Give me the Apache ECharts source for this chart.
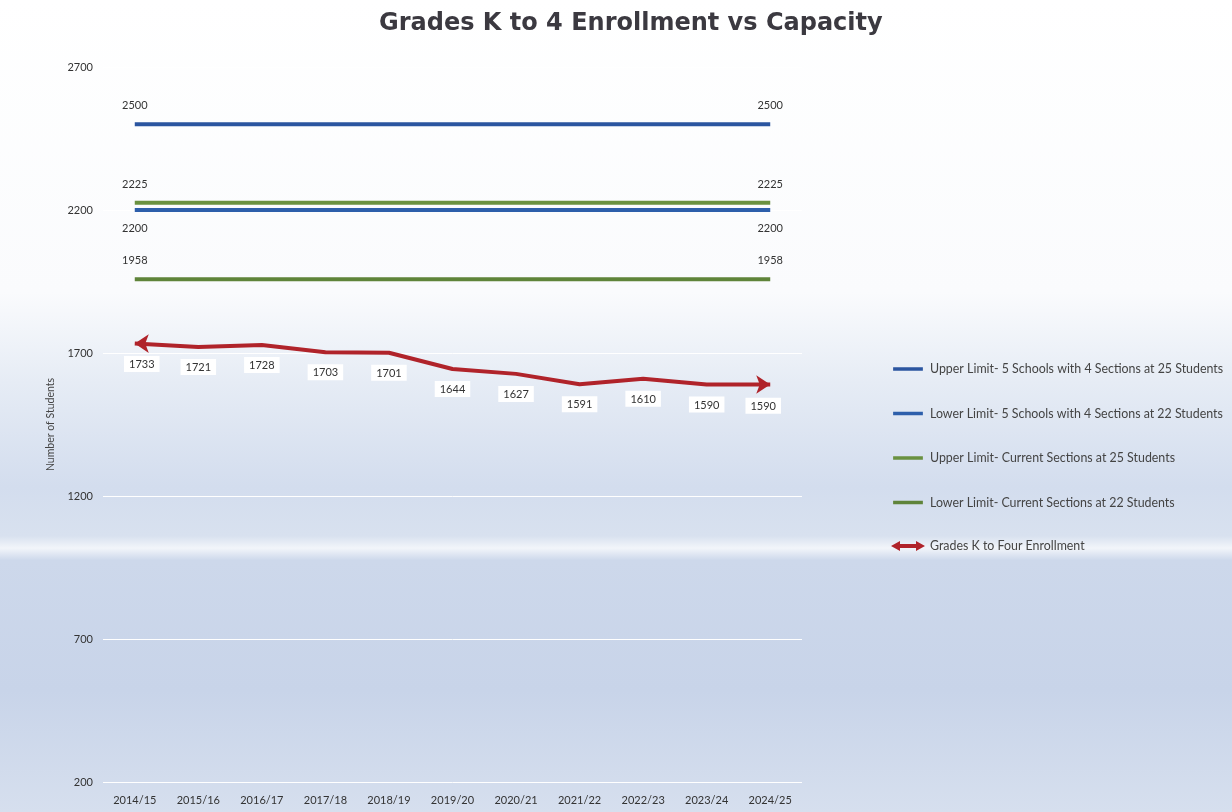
<!DOCTYPE html>
<html>
<head>
<meta charset="utf-8">
<script src="https://cdn.jsdelivr.net/npm/echarts@6/dist/echarts.min.js"></script>
<style>html,body{margin:0;padding:0;background:#fff}#c{width:1232px;height:812px}</style>
</head>
<body>
<div id="c"></div>
<script>
const categories = ['2014/15','2015/16','2016/17','2017/18','2018/19','2019/20','2020/21','2021/22','2022/23','2023/24','2024/25'];
const upperLimit5Schools = [2500,2500,2500,2500,2500,2500,2500,2500,2500,2500,2500];
const lowerLimit5Schools = [2200,2200,2200,2200,2200,2200,2200,2200,2200,2200,2200];
const upperLimitCurrent = [2225,2225,2225,2225,2225,2225,2225,2225,2225,2225,2225];
const lowerLimitCurrent = [1958,1958,1958,1958,1958,1958,1958,1958,1958,1958,1958];
const enrollment = [1733,1721,1728,1703,1701,1644,1627,1591,1610,1590,1590];
const yTicks = [200,700,1200,1700,2200,2700];

const FONT = 'Lato';
const endLabel = (pos) => ({
  show: true, position: pos, distance: 13, fontFamily: FONT, fontSize: 11, color: '#333',
  formatter: p => (p.dataIndex === 0 || p.dataIndex === categories.length - 1) ? String(p.value) : ''
});
function capSeries(name, data, color, pos) {
  return { name, type: 'line', data, symbol: 'circle', symbolSize: 0.1, showSymbol: true,
    lineStyle: { color, width: 4 }, itemStyle: { color },
    label: endLabel(pos), z: 3, emphasis: { disabled: true } };
}
const enrollData = enrollment.map((v, i) => {
  if (i === 0) return { value: v, symbol: 'arrow', symbolSize: [14, 14], symbolRotate: 90, label: { distance: 3 } };
  if (i === enrollment.length - 1) return { value: v, symbol: 'arrow', symbolSize: [14, 14], symbolRotate: -90, label: { distance: 4 } };
  return { value: v };
});
const lineIcon = 'path://M0,0 L0.01,0 M0,6 L34,6 L34,10 L0,10 Z M34,16 L34.01,16';
const chart = echarts.init(document.getElementById('c'));
chart.setOption({
  backgroundColor: {
    type: 'linear', x: 0, y: 0, x2: 0, y2: 1,
    colorStops: [
      { offset: 0, color: '#ffffff' },
      { offset: 0.36, color: '#fafbfd' },
      { offset: 0.47, color: '#e6ecf5' },
      { offset: 0.6, color: '#d3ddee' },
      { offset: 0.66, color: '#d8e1ef' },
      { offset: 0.675, color: '#f2f5fa' },
      { offset: 0.69, color: '#cdd8eb' },
      { offset: 0.85, color: '#c8d4e9' },
      { offset: 1, color: '#d6dfee' }
    ]
  },
  textStyle: { fontFamily: FONT },
  title: {
    text: 'Grades K to 4 Enrollment vs Capacity', left: 374, top: 7,
    textStyle: { fontFamily: 'DejaVu Sans', fontWeight: 'bold', fontSize: 24, color: '#3b3940' }
  },
  legend: {
    orient: 'vertical', left: 886, top: 357, itemGap: 30.5, itemWidth: 34, itemHeight: 14,
    textStyle: { fontFamily: FONT, fontSize: 12.4, color: '#444' },
    data: [
      { name: 'Upper Limit- 5 Schools with 4 Sections at 25 Students', icon: lineIcon },
      { name: 'Lower Limit- 5 Schools with 4 Sections at 22 Students', icon: lineIcon },
      { name: 'Upper Limit- Current Sections at 25 Students', icon: lineIcon },
      { name: 'Lower Limit- Current Sections at 22 Students', icon: lineIcon },
      { name: 'Grades K to Four Enrollment', icon: 'path://M0,5 L9,0 L9,3 L25,3 L25,0 L34,5 L25,10 L25,7 L9,7 L9,10 Z' }
    ]
  },
  grid: { left: 103, right: 430, top: 67, bottom: 30, containLabel: false },
  xAxis: {
    type: 'category', data: categories, boundaryGap: true,
    axisLine: { show: false }, axisTick: { show: false },
    axisLabel: { fontFamily: FONT, fontSize: 11, color: '#333', margin: 13 }
  },
  yAxis: {
    type: 'value', min: 200, max: 2700, interval: 500,
    name: 'Number of Students', nameLocation: 'middle', nameGap: 45,
    nameTextStyle: { fontFamily: FONT, fontSize: 10.5, color: '#444' },
    axisLine: { show: false }, axisTick: { show: false },
    axisLabel: { fontFamily: FONT, fontSize: 11, color: '#333', margin: 10,
      formatter: v => yTicks.includes(v) ? String(v) : '' },
    splitLine: { lineStyle: { color: '#ffffff', width: 1 } }
  },
  series: [
    capSeries('Upper Limit- 5 Schools with 4 Sections at 25 Students', upperLimit5Schools, '#2b55a0', 'top'),
    capSeries('Lower Limit- 5 Schools with 4 Sections at 22 Students', lowerLimit5Schools, '#2d5fab', 'bottom'),
    capSeries('Upper Limit- Current Sections at 25 Students', upperLimitCurrent, '#6a9140', 'top'),
    capSeries('Lower Limit- Current Sections at 22 Students', lowerLimitCurrent, '#5f843a', 'top'),
    {
      name: 'Grades K to Four Enrollment', type: 'line', data: enrollData, symbol: 'circle', symbolSize: 0.1,
      showSymbol: true, emphasis: { disabled: true },
      lineStyle: { color: '#b0232a', width: 4 }, itemStyle: { color: '#b0232a' }, z: 4,
      label: { show: true, position: 'bottom', distance: 12, fontFamily: FONT, fontSize: 11, color: '#333',
        backgroundColor: '#ffffff', padding: [3, 5, 2, 5] }
    }
  ]
});
</script>
</body>
</html>
